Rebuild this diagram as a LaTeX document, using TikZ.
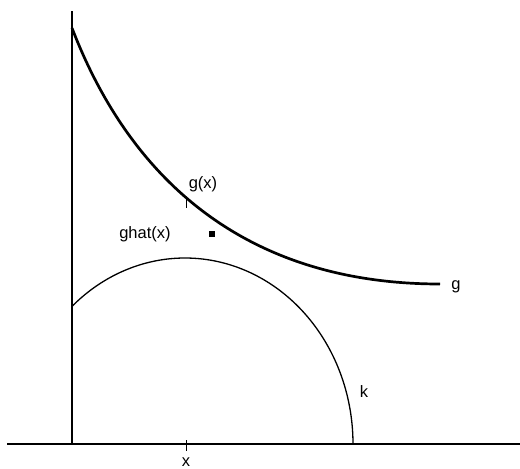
\documentclass[tikz,border=0pt]{standalone}
\usepackage{fontspec}
\setmainfont{Liberation Sans}
\begin{document}
\begin{tikzpicture}[x=1pt,y=-1pt,
  axis/.style={line width=2.9pt},
  gcurve/.style={line width=2.7pt},
  kcurve/.style={line width=1.3pt},
  tick/.style={line width=0.9pt},
  lbl/.style={font=\fontsize{16.5}{18}\selectfont, inner sep=0pt}]
\useasboundingbox (0,0) rectangle (520,469);
% axes
\coordinate (xl) at (7,444);
\coordinate (xr) at (520,444);
\coordinate (yb) at (72,444);
\coordinate (yt) at (72,11);
\draw[axis] (xl) -- (xr);
\draw[axis] (yb) -- (yt);
% curve g
\coordinate (g0) at (72,28);
\coordinate (g1) at (440,284);
\draw[gcurve] (g0) .. controls (132,184) and (250,284) .. (g1);
% curve k (elliptic arc)
\draw[kcurve] plot[domain=132.3:0,samples=80,smooth,variable=\t] ({185+168*cos(\t)},{444-186*sin(\t)});
% ticks
\coordinate (tg1) at (186,197);
\coordinate (tg2) at (186,208);
\draw[tick] (tg1) -- (tg2);
\coordinate (tx1) at (186,440);
\coordinate (tx2) at (186,451);
\draw[tick] (tx1) -- (tx2);
% square
\node[fill=black, minimum size=5.5pt, inner sep=0pt] (sq) at (212,234) {};
% labels
\node[lbl] (lgx) at (203,184) {g(x)};
\node[lbl] (lghat) at (145,234) {ghat(x)};
\node[lbl] (lg) at (456,287) {g};
\node[lbl] (lk) at (364,392) {k};
\node[lbl] (lx) at (186,462) {x};
\end{tikzpicture}
\end{document}
